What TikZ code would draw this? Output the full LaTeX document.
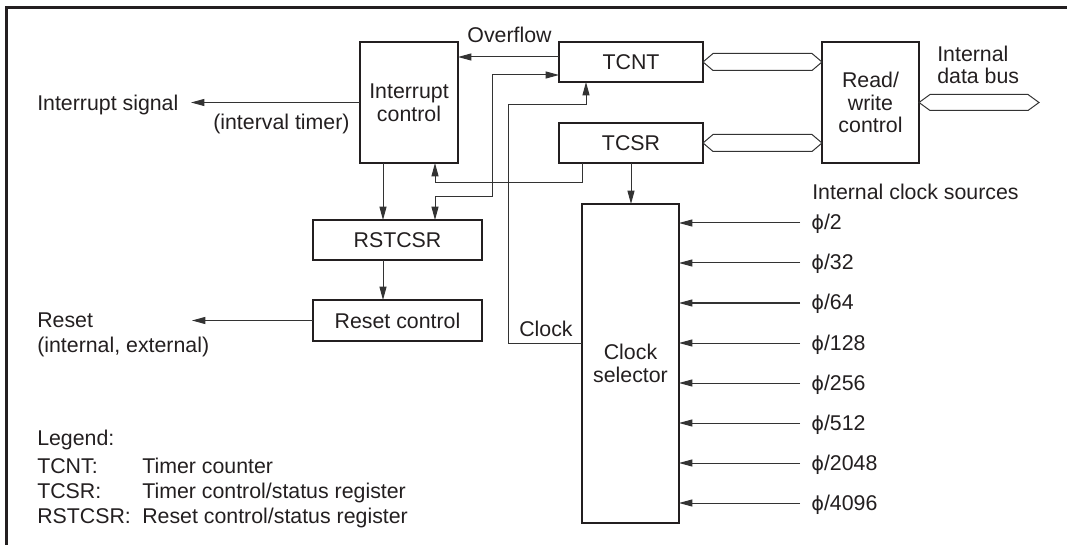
\documentclass[tikz,border=0pt]{standalone}
\usepackage{fontspec}
\setmainfont{Liberation Sans}
\newfontfamily\phifont{DejaVu Sans}
\usetikzlibrary{arrows.meta,calc}
\definecolor{ink}{HTML}{231F20}
\definecolor{wire}{HTML}{333333}
\begin{document}
\begin{tikzpicture}[x=0.75pt,y=-0.75pt,
  font=\fontsize{16}{17}\selectfont, text=ink,
  box/.style={draw=ink,line width=0.9pt,inner sep=0pt,outer sep=0pt,align=center},
  arr/.style={draw=wire,line width=0.75pt,-{Triangle[length=10pt,width=5.25pt]}},
  arrb/.style={draw=wire,line width=0.75pt,{Triangle[length=10pt,width=5.25pt]}-{Triangle[length=10pt,width=5.25pt]}},
  bus/.style={draw=wire,line width=0.75pt,line join=miter},
  lbl/.style={inner sep=0pt,anchor=base west}]
\useasboundingbox (0,0) rectangle (1067,545);
\draw[ink,line width=2.25pt] (6.5,545) -- (6.5,7.5) -- (1067,7.5);

% boxes
\node[box,minimum width=73.5pt,minimum height=90.75pt] (intc) at (409,102.5) {Interrupt\\control};
\node[box,minimum width=108pt,minimum height=30pt] (tcnt) at (631,62) {TCNT};
\node[box,minimum width=108pt,minimum height=30pt] (tcsr) at (631,143) {TCSR};
\node[box,minimum width=72.75pt,minimum height=90.75pt] (rw) at (870.5,102.5) {Read/\\write\\control};
\node[box,minimum width=126.75pt,minimum height=30pt] (rstcsr) at (397.5,240) {RSTCSR};
\node[box,minimum width=126.75pt,minimum height=30.75pt] (rstc) at (397.5,320.5) {Reset control};
\node[box,minimum width=72.75pt,minimum height=239.25pt] (clksel) at (630.5,363.5) {Clock\\selector};

% labels
\node[lbl] (isig) at (37,111) {Interrupt signal};
\node[lbl] (ivt) at (213,130) {(interval timer)};
\node[inner sep=0pt,anchor=base] (ovf) at (509.5,43) {Overflow};
\node[lbl] (rst1) at (37,327) {Reset};
\node[lbl] (rst2) at (37,352) {(internal, external)};
\node[lbl] (clk) at (519,336) {Clock};
\node[lbl] (idb1) at (937,62) {Internal};
\node[lbl] (idb2) at (937,84) {data bus};
\node[lbl] (ics) at (812,200) {Internal clock sources};

% legend
\node[lbl] (lg0) at (37,445) {Legend:};
\node[lbl] (lg1a) at (37,473) {TCNT:};
\node[lbl] (lg1b) at (142,473) {Timer counter};
\node[lbl] (lg2a) at (37,498) {TCSR:};
\node[lbl] (lg2b) at (142,498) {Timer control/status register};
\node[lbl] (lg3a) at (37,523) {RSTCSR:};
\node[lbl] (lg3b) at (142,523) {Reset control/status register};

% clock sources
\foreach \t [count=\k] in {2,32,64,128,256,512,2048,4096}{
  \pgfmathsetmacro\yy{183+40*\k}
  \coordinate (src\k) at (800,\yy);
  \node[lbl] (ph\k) at (811,{\yy+7}) {{\phifont\fontsize{14.5}{17}\selectfont ϕ}/\t};
  \draw[arr] (src\k) -- (src\k -| clksel.east);
}

% connectors
\draw[arr] ([yshift=3.75pt]tcnt.west) -- ([yshift=3.75pt]tcnt.west -| intc.east);
\draw[arrb] ([yshift=-9.75pt]tcnt.west) -| (492,197) -| ([xshift=28.125pt]rstcsr.north);
\draw[arr] ([xshift=-36.75pt]tcsr.south) |- (435,183) -- ([xshift=19.5pt]intc.south);
\draw[arr] ([yshift=15.375pt]clksel.west) -| (508,105) -| ([xshift=-33.75pt]tcnt.south);
\draw[arr] ([xshift=-19.5pt]intc.south) -- ([xshift=-19.5pt]intc.south |- rstcsr.north);
\draw[arr] ([xshift=-10.875pt]rstcsr.south) -- ([xshift=-10.875pt]rstcsr.south |- rstc.north);
\draw[arr] (tcsr.south) -- (tcsr.south |- clksel.north);
\coordinate (isigtip) at (191,102.5);
\draw[arr] (intc.west) -- (isigtip);
\coordinate (rsttip) at (192,320.5);
\draw[arr] (rstc.west) -- (rsttip);

% buses
\draw[bus] (tcnt.east) -- ++(10,-8.5) -- ($(tcnt.east -| rw.west)+(-10,-8.5)$) -- (tcnt.east -| rw.west) -- ($(tcnt.east -| rw.west)+(-10,8.5)$) -- ($(tcnt.east)+(10,8.5)$) -- cycle;
\draw[bus] (tcsr.east) -- ++(10,-8.5) -- ($(tcsr.east -| rw.west)+(-10,-8.5)$) -- (tcsr.east -| rw.west) -- ($(tcsr.east -| rw.west)+(-10,8.5)$) -- ($(tcsr.east)+(10,8.5)$) -- cycle;
\coordinate (busend) at (1039,102.5);
\draw[bus] (rw.east) -- ++(11,-8) -- ($(busend)+(-11,-8)$) -- (busend) -- ($(busend)+(-11,8)$) -- ($(rw.east)+(11,8)$) -- cycle;
\end{tikzpicture}
\end{document}
